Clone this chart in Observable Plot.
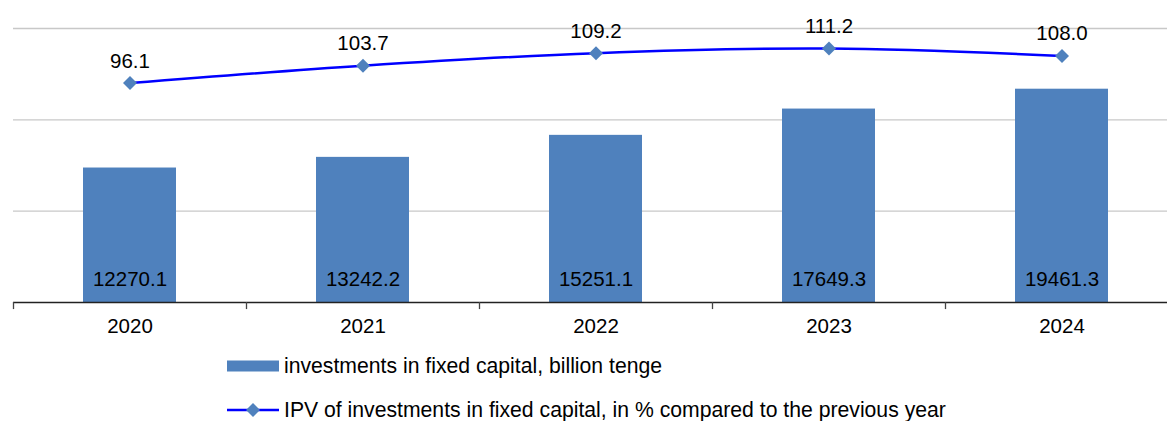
<!DOCTYPE html>
<html><head><meta charset="utf-8">
<script src="https://cdn.jsdelivr.net/npm/d3@7"></script>
<script src="https://cdn.jsdelivr.net/npm/@observablehq/plot@0.6"></script>
<style>
html,body{margin:0;padding:0;background:#fff;overflow:hidden;width:1167px;height:421px;font-family:"Liberation Sans",Arial,sans-serif;}
#chart{position:absolute;left:0;top:0;}
.leg{position:absolute;left:227px;display:flex;align-items:center;font-size:21.2px;color:#000;white-space:nowrap;}
.leg svg{margin-right:5px;overflow:visible}
</style></head>
<body>
<div id="chart"></div>
<div class="leg" id="leg1" style="top:354px;height:24px"></div>
<div class="leg" id="leg2" style="top:398px;height:24px"></div>
<script>
const years = ["2020", "2021", "2022", "2023", "2024"];
const investments = [12270.1, 13242.2, 15251.1, 17649.3, 19461.3];
const ipv = [96.1, 103.7, 109.2, 111.2, 108.0];
const gridTicks = [40, 80, 120];
const barAxisMax = 25000;   // hidden secondary axis for bars
const lineAxisMax = 120;    // primary axis for IPV line
const seriesNames = ["investments in fixed capital, billion tenge", "IPV of investments in fixed capital, in % compared to the previous year"];

const barColor = "#4f81bd";
const lineColor = "#0000ff";
const fs = 20.5;

const data = years.map((y, i) => ({year: y, inv: investments[i], invScaled: investments[i] / barAxisMax * lineAxisMax, ipv: ipv[i]}));

const chart = Plot.plot({
  width: 1167,
  height: 340,
  marginLeft: 13,
  marginRight: -11,
  marginTop: 28,
  marginBottom: 38,
  style: {fontFamily: "'Liberation Sans', Arial, sans-serif", fontSize: fs + "px", color: "#000", background: "#fff", overflow: "visible"},
  x: {type: "band", domain: years, padding: 0, label: null},
  y: {domain: [0, lineAxisMax], axis: null},
  marks: [
    Plot.ruleY(gridTicks, {stroke: "#c8c8c8", strokeWidth: 1.3}),
    Plot.barY(data, {x: "year", y: "invScaled", fill: barColor, insetLeft: 70, insetRight: 70}),
    Plot.ruleY([0], {stroke: "#222", strokeWidth: 1.3}),
    Plot.ruleX(years, {x: d => d, dx: -116.5, y1: 0, y2: -3.1, stroke: "#444", strokeWidth: 1.3}),
    Plot.axisX({tickSize: 0, tickPadding: 16, fontSize: fs, label: null}),
    Plot.text(data, {x: "year", y: 0, text: d => d.inv.toFixed(1), dy: -23, fontSize: fs, fill: "#000"}),
    Plot.line(data, {x: "year", y: "ipv", stroke: lineColor, strokeWidth: 2.5, curve: "catmull-rom"}),
    Plot.dot(data, {x: "year", y: "ipv", symbol: "diamond2", r: 6.3, fill: barColor, stroke: "none"}),
    Plot.text(data, {x: "year", y: "ipv", text: d => d.ipv.toFixed(1), dy: -22, fontSize: fs, fill: "#000"})
  ]
});
document.getElementById("chart").appendChild(chart);

document.getElementById("leg1").innerHTML =
  `<svg width="52" height="12"><rect x="0" y="0.5" width="52" height="11" fill="${barColor}"/></svg><span>${seriesNames[0]}</span>`;
document.getElementById("leg2").innerHTML =
  `<svg width="52" height="14"><line x1="0" y1="7" x2="52" y2="7" stroke="${lineColor}" stroke-width="2.5"/><path d="M26,0 L33,7 L26,14 L19,7 Z" fill="${barColor}"/></svg><span>${seriesNames[1]}</span>`;
</script>
</body></html>
